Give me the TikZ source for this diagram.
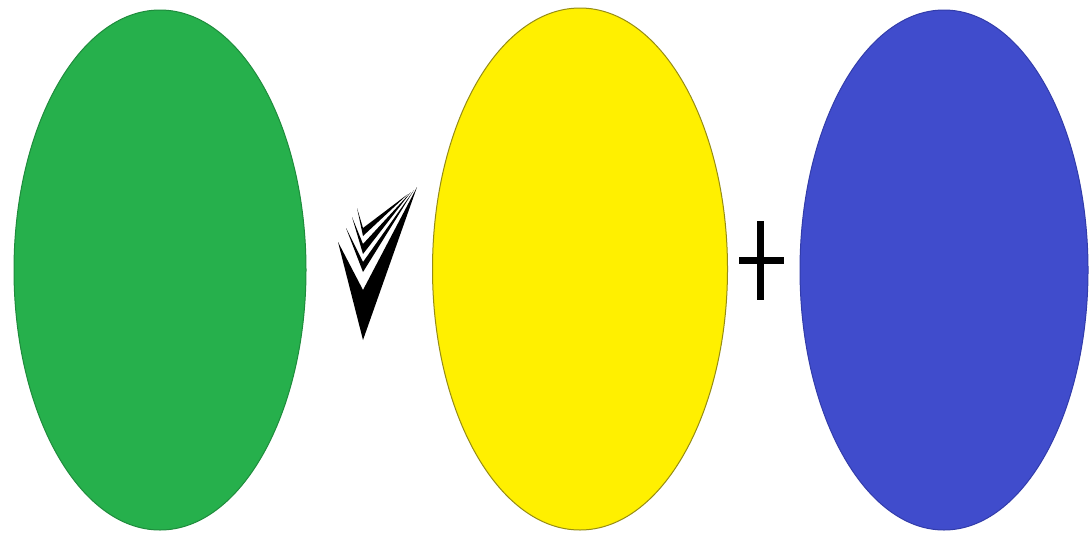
\documentclass[tikz,border=0pt]{standalone}
\usetikzlibrary{shapes.geometric}
\definecolor{cgreen}{RGB}{38,176,76}
\definecolor{cgreenline}{RGB}{30,140,60}
\definecolor{cyellow}{RGB}{255,240,0}
\definecolor{cyellowline}{RGB}{150,140,20}
\definecolor{cblue}{RGB}{64,76,204}
\definecolor{cblueline}{RGB}{50,60,170}
\begin{document}
\begin{tikzpicture}[x=1pt,y=-1pt,
  blob/.style={ellipse, inner sep=0pt, line width=1pt},
  mark/.style={fill=black, draw=none}]
\useasboundingbox[fill=white] (0,0) rectangle (1091,536);
\node[blob, fill=cgreen, draw=cgreenline, minimum width=292pt, minimum height=520pt] (green) at (160,270) {};
\node[blob, fill=cyellow, draw=cyellowline, minimum width=295pt, minimum height=522pt] (yellow) at (580,269) {};
\node[blob, fill=cblue, draw=cblueline, minimum width=288pt, minimum height=520pt] (blue) at (944,270) {};
% chevron check mark
\fill (338,242) -- (363,340) -- (417,187) -- (363,290) -- cycle;
\fill (346,228) -- (363,272) -- (414,190) -- (363,262) -- cycle;
\fill (352,217) -- (363,254) -- (411,192) -- (363,244) -- cycle;
\fill (357,208) -- (363,236) -- (408,194) -- (363,228) -- cycle;
% plus sign
\draw[line width=7pt] (760,221) -- (760,300);
\draw[line width=7pt] (739,260) -- (784,260);
\end{tikzpicture}
\end{document}
